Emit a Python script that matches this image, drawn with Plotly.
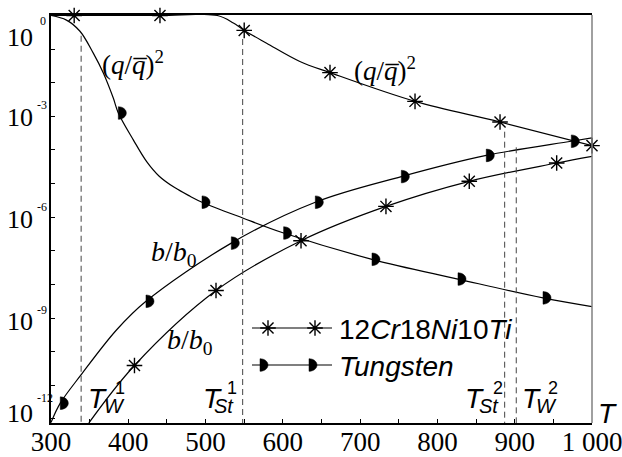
import plotly.graph_objects as go

# ---- data ---------------------------------------------------------------
# (q/q_bar)^2 and b/b0 versus temperature T for two materials

steel_q_T = [300, 330, 441, 515, 536, 550, 579, 622, 661, 771, 881, 1000]
steel_q_v = [1, 1, 1, 1, 6.0e-1, 3.6e-1, 1.5e-1, 4.3e-2, 2.0e-2, 2.8e-3, 6.8e-4, 1.35e-4]
steel_q_mark_T = [330, 441, 550, 661, 771, 881, 1000]
steel_q_mark_v = [1, 1, 3.6e-1, 2.0e-2, 2.8e-3, 6.8e-4, 1.35e-4]

steel_b_T = [349, 408, 513.5, 623.5, 733.4, 841.2, 954.3, 1000]
steel_b_v = [7.6e-13, 3.9e-11, 6.6e-9, 2.0e-7, 2.1e-6, 1.17e-5, 4.1e-5, 6.5e-5]
steel_b_mark_T = [408, 513.5, 623.5, 733.4, 841.2, 954.3]
steel_b_mark_v = [3.9e-11, 6.6e-9, 2.0e-7, 2.1e-6, 1.17e-5, 4.1e-5]

w_q_T = [300, 320, 337.5, 354.7, 367.7, 380.6, 387.1, 406.5, 423.8, 440, 460, 480,
         495.4, 548, 601, 715.3, 826.6, 936.6, 1000]
w_q_v = [1, 7.3e-1, 3.4e-1, 7.6e-2, 1.95e-2, 3.5e-3, 1.26e-3, 2.0e-4, 4.5e-5, 1.66e-5,
         7.6e-6, 4.2e-6, 2.8e-6, 9.5e-7, 3.4e-7, 5.6e-8, 1.45e-8, 4.0e-9, 2.2e-9]
w_q_mark_T = [387.1, 495.4, 601, 715.3, 826.6, 936.6]
w_q_mark_v = [1.26e-3, 2.8e-6, 3.4e-7, 5.6e-8, 1.45e-8, 4.0e-9]

w_b_T = [300, 312, 338.8, 385, 422.9, 533.3, 642, 753.3, 863.2, 973.2, 1000]
w_b_v = [7.8e-13, 2.95e-12, 2.04e-11, 4.5e-10, 3.16e-9, 1.7e-7, 2.8e-6, 1.62e-5,
         6.9e-5, 1.82e-4, 2.3e-4]
w_b_mark_T = [312, 422.9, 533.3, 642, 753.3, 863.2, 973.2]
w_b_mark_v = [2.95e-12, 3.16e-9, 1.7e-7, 2.8e-6, 1.62e-5, 6.9e-5, 1.82e-4]

# characteristic temperatures (dashed verticals): value, upper end of the line
thr_T = [339, 548, 887, 902]
thr_top = [2.5e-1, 2.0e-1, 3.5e-4, 1.2e-4]

x_ticks = [300, 400, 500, 600, 700, 800, 900, 1000]
x_tick_text = ["300", "400", "500", "600", "700", "800", "900", "1 000"]
y_exps = [0, -3, -6, -9, -12]

# ---- geometry -----------------------------------------------------------
W, H = 622, 457
L, R, T, B = 51, 592, 15, 423
SERIF = "Liberation Serif"
SANS = "Liberation Sans"
LINE = dict(color="black", width=1.2)

fig = go.Figure()

def curve(xs, ys):
    fig.add_trace(go.Scatter(x=xs, y=ys, mode="lines", line=dict(shape="spline", **LINE),
                             hoverinfo="skip", showlegend=False))

for xs, ys in [(steel_q_T, steel_q_v), (steel_b_T, steel_b_v), (w_q_T, w_q_v), (w_b_T, w_b_v)]:
    curve(xs, ys)

# dashed characteristic temperatures
for t, top in zip(thr_T, thr_top):
    fig.add_trace(go.Scatter(x=[t, t], y=[top, 1e-13], mode="lines",
                             line=dict(color="#444", width=1, dash="6px,4px"),
                             hoverinfo="skip", showlegend=False))

# asterisk markers for the steel
ASTER = dict(symbol="asterisk-open", size=13, color="black",
             line=dict(color="black", width=1.4))
fig.add_trace(go.Scatter(x=steel_q_mark_T + steel_b_mark_T, y=steel_q_mark_v + steel_b_mark_v,
                         mode="markers", marker=ASTER, cliponaxis=False,
                         hoverinfo="skip", showlegend=False))

# half-disc markers for tungsten (flat side on the point)
def half_disc(xref, yref, xa, ya, r=8, h=6.3):
    k = 0.5523
    path = (f"M0,{-h} C{k*r},{-h} {r},{-k*h} {r},0 "
            f"C{r},{k*h} {k*r},{h} 0,{h} Z")
    fig.add_shape(type="path", xref=xref, yref=yref, xsizemode="pixel", ysizemode="pixel",
                  xanchor=xa, yanchor=ya, path=path, fillcolor="black",
                  line=dict(color="black", width=0.5), layer="above")

for xt, yv in zip(w_q_mark_T + w_b_mark_T, w_q_mark_v + w_b_mark_v):
    half_disc("x", "y", xt, yv)

# ---- labels placed in figure pixels (converted to paper units) ----------
def ann(x, y, text, size, family, xanchor="left", yanchor="middle"):
    fig.add_annotation(x=(x - L) / (R - L), y=(B - y) / (B - T), xref="paper", yref="paper",
                       text=text, showarrow=False, xanchor=xanchor, yanchor=yanchor,
                       font=dict(family=family, size=size, color="black"))

# legend (pixel overlay axes)
fig.add_trace(go.Scatter(x=[252, 332], y=[328, 328], xaxis="x2", yaxis="y2", mode="lines",
                         line=LINE, hoverinfo="skip", showlegend=False))
fig.add_trace(go.Scatter(x=[268, 315], y=[328, 328], xaxis="x2", yaxis="y2", mode="markers",
                         marker=ASTER, hoverinfo="skip", showlegend=False))
fig.add_trace(go.Scatter(x=[252, 332], y=[365, 365], xaxis="x2", yaxis="y2", mode="lines",
                         line=LINE, hoverinfo="skip", showlegend=False))
for lx in [260, 309]:
    half_disc("x2", "y2", lx, 365)
ann(337, 329, "12<i>Cr</i>18<i>Ni</i>10<i>Ti</i>", 28, SANS)
ann(337, 366, "<i>Tungsten</i>", 28, SANS)

# y tick labels 10^k
y_lab_c = [37.5, 117.5, 219, 321, 413]
y_sup_c = [21, 105, 207, 310, 398]
y_sup_x = [38, 35, 35, 35, 35]
for e, yc, ys, sx in zip(y_exps, y_lab_c, y_sup_c, y_sup_x):
    ann(5, yc, "10", 26, SERIF)
    ann(sx, ys, str(e), 12, SERIF)

# curve labels
QLAB = "(<i>q</i>/<i>q\u0305</i>)<sup>2</sup>"
ann(100, 63, QLAB, 27, SERIF)
ann(352, 69, QLAB, 27, SERIF)
BLAB = "<i>b</i>/<i>b</i><sub>0</sub>"
ann(149, 254, BLAB, 28, SERIF)
ann(165, 341, BLAB, 28, SERIF)

# characteristic temperature labels
def tlabel(x, sub, sup, subx, supx):
    ann(x, 398, "<i>T</i>", 28, SANS)
    ann(subx, 406, f"<i>{sub}</i>", 20, SANS)
    ann(supx, 388, sup, 18, SANS)

tlabel(86, "W", "1", 102, 113)
tlabel(201, "St", "1", 212, 225)
tlabel(463, "St", "2", 477, 491)
tlabel(520, "W", "2", 534, 546)
ann(596, 413, "<i>T</i>", 28, SANS)

# right frame edge
fig.add_shape(type="line", xref="paper", yref="paper", x0=1, x1=1, y0=0, y1=1,
              line=dict(color="#808080", width=1.5))

fig.update_layout(
    width=W, height=H,
    margin=dict(l=L, r=W - R, t=T, b=H - B, pad=0, autoexpand=False),
    paper_bgcolor="white", plot_bgcolor="white",
    showlegend=False,
    xaxis=dict(range=[300, 1000], tickvals=x_ticks, ticktext=x_tick_text,
               ticks="inside", ticklen=4, tickwidth=1, tickcolor="black",
               minor=dict(tickvals=[350, 450, 550, 650, 750, 850, 950], ticks="inside",
                          ticklen=4, tickcolor="black"),
               tickfont=dict(family=SERIF, size=27, color="black"),
               ticklabeloverflow="allow", ticklabelstandoff=-6, automargin=False,
               showline=True, linecolor="black", linewidth=1.5, mirror=True,
               showgrid=False, zeroline=False),
    yaxis=dict(type="log", range=[-12.12, 0.015], automargin=False,
               tickvals=[10.0 ** k for k in range(-12, 1)], showticklabels=False,
               ticks="inside", ticklen=4, tickwidth=1, tickcolor="black",
               showline=True, linecolor="black", linewidth=1.5, mirror=False,
               showgrid=False, zeroline=False),
    xaxis2=dict(range=[L, R], overlaying="x", visible=False),
    yaxis2=dict(range=[B, T], overlaying="y", visible=False),
)

fig.write_html("out.html")
